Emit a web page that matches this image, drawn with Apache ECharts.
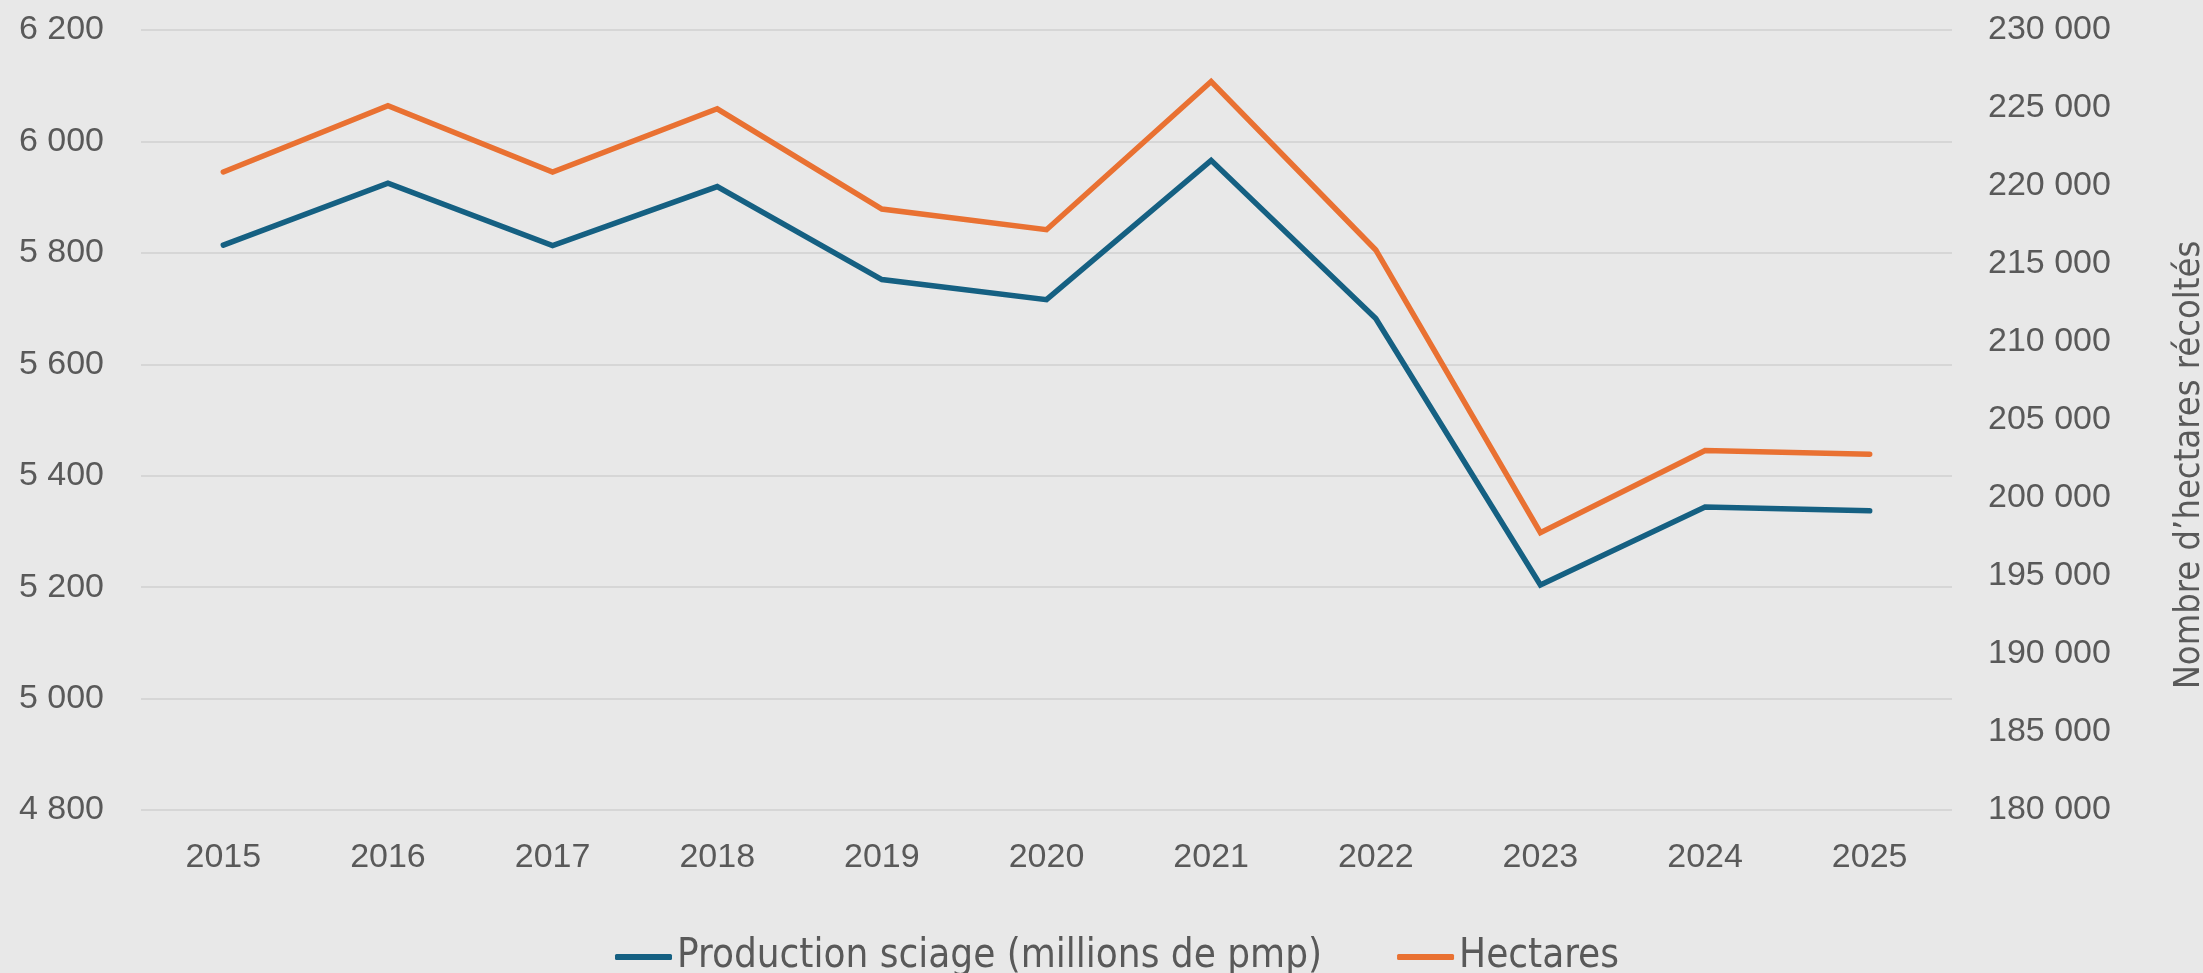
<!DOCTYPE html>
<html>
<head>
<meta charset="utf-8">
<script src="https://cdn.jsdelivr.net/npm/echarts@6/dist/echarts.min.js"></script>
<style>
    html, body {margin:0; padding:0; background:#E8E8E8;}
    #chart {width:2203px; height:973px;}
</style>
</head>
<body>
<div id="chart"></div>
<script>
// données
var annees = ['2015','2016','2017','2018','2019','2020','2021','2022','2023','2024','2025'];
var productionSciage = [5814, 5925, 5813, 5919, 5752, 5716, 5966, 5682, 5204, 5344, 5337];
var hectares = [220900, 225150, 220900, 224950, 218520, 217200, 226700, 215900, 197780, 203040, 202810];
var nomsSeries = ['Production sciage (millions de pmp)', 'Hectares'];
var titreAxeDroite = 'Nombre d\u2019hectares récoltés';

function espaceMilliers(v) {
    return String(v).replace(/\B(?=(\d{3})+(?!\d))/g, ' ');
}

var chart = echarts.init(document.getElementById('chart'));

var police = '"Liberation Sans", Arial, sans-serif';
var policeEtroite = '"Liberation Sans Narrow", "DejaVu Sans Condensed", "Liberation Sans", sans-serif';

var option = {
    backgroundColor: '#E8E8E8',
    animation: false,
    color: ['#156082', '#E97132'],
    grid: {
        left: 141,
        right: 251,
        top: 30,
        bottom: 163,
        outerBoundsMode: 'none'
    },
    legend: {
        left: 610,
        top: 932,
        itemWidth: 57,
        itemHeight: 6,
        itemGap: 75,
        icon: 'roundRect',
        textStyle: {
            color: '#595959',
            fontSize: 40,
            fontFamily: policeEtroite
        },
        data: nomsSeries
    },
    xAxis: {
        type: 'category',
        data: annees,
        axisLine: {show: false},
        axisTick: {show: false},
        axisLabel: {
            color: '#595959',
            fontSize: 34,
            fontFamily: police,
            margin: 31
        }
    },
    yAxis: [{
        type: 'value',
        min: 4800,
        max: 6200,
        interval: 200,
        axisLine: {show: false},
        axisTick: {show: false},
        axisLabel: {
            color: '#595959',
            fontSize: 34,
            fontFamily: police,
            margin: 37,
            formatter: espaceMilliers
        },
        splitLine: {
            lineStyle: {color: '#D6D6D6', width: 2}
        }
    }, {
        type: 'value',
        position: 'right',
        min: 180000,
        max: 230000,
        interval: 5000,
        name: titreAxeDroite,
        nameLocation: 'middle',
        nameRotate: 90,
        nameGap: 220,
        nameTextStyle: {
            color: '#595959',
            fontSize: 36,
            fontFamily: policeEtroite,
            padding: [0, 90, 0, 0]
        },
        axisLine: {show: false},
        axisTick: {show: false},
        axisLabel: {
            color: '#595959',
            fontSize: 34,
            fontFamily: police,
            margin: 36,
            formatter: espaceMilliers
        },
        splitLine: {show: false}
    }],
    series: [{
        name: nomsSeries[0],
        type: 'line',
        yAxisIndex: 0,
        data: productionSciage,
        showSymbol: false,
        lineStyle: {width: 5.5, cap: 'round', join: 'miter'}
    }, {
        name: nomsSeries[1],
        type: 'line',
        yAxisIndex: 1,
        data: hectares,
        showSymbol: false,
        lineStyle: {width: 5.5, cap: 'round', join: 'miter'}
    }]
};

chart.setOption(option);
</script>
</body>
</html>
